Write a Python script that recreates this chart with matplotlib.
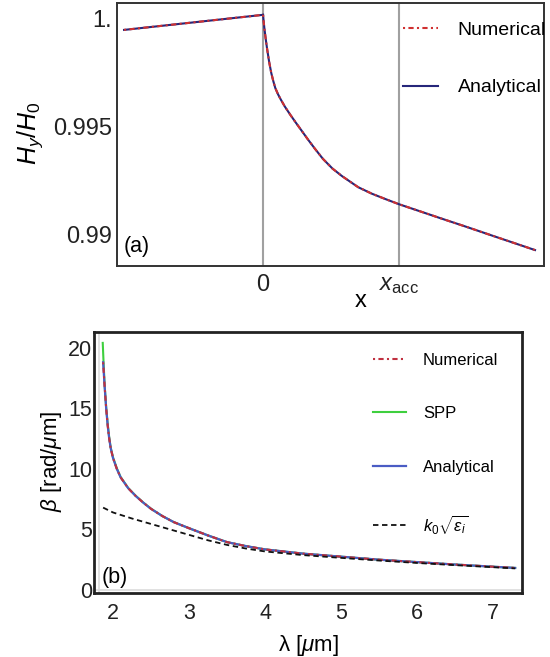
import matplotlib
matplotlib.use("Agg")
import matplotlib.pyplot as plt

plt.rcParams['font.family'] = ['Liberation Sans', 'DejaVu Sans']
plt.rcParams['mathtext.fontset'] = 'custom'
plt.rcParams['mathtext.rm'] = 'Liberation Sans'
plt.rcParams['mathtext.it'] = 'Liberation Sans:italic'
plt.rcParams['mathtext.bf'] = 'Liberation Sans:bold'

# ---------------- Panel (a) data ----------------
xa_left = [-1.022, 0.0]
ya_left = [0.99949, 1.00019]
xa_right = [0.0, 0.005, 0.01, 0.02, 0.03, 0.045, 0.06, 0.075, 0.09, 0.11, 0.13, 0.16,
            0.20, 0.24, 0.28, 0.33, 0.38, 0.44, 0.51, 0.58, 0.64, 0.70, 0.80, 0.90,
            1.0, 1.15, 1.3, 1.5, 1.7, 1.85, 2.0]
ya_right = [1.00019, 0.99985, 0.99955, 0.99905, 0.99860, 0.99800, 0.99750, 0.99712,
            0.99679, 0.99650, 0.99626, 0.99593, 0.99555, 0.99519, 0.99484, 0.99440,
            0.99398, 0.99350, 0.99305, 0.99270, 0.99244, 0.99218, 0.99188, 0.99163,
            0.99139, 0.99107, 0.99075, 0.99033, 0.98990, 0.98958, 0.98926]
a_vlines = [0.0, 1.0]
a_xticks = [0.0, 1.0]
a_xticklabels = ['0', r'$x_{\rm acc}$']
a_yticks = [0.99, 0.995, 1.0]
a_yticklabels = ['0.99', '0.995', '1.']

# ---------------- Panel (b) data ----------------
lam_main = [1.87, 1.89, 1.91, 1.93, 1.95, 1.97, 2.0, 2.05, 2.1, 2.2, 2.3, 2.4, 2.5,
            2.65, 2.8, 3.0, 3.25, 3.5, 3.75, 4.0, 4.5, 5.0, 5.5, 6.0, 6.5, 7.0, 7.29]
beta_num = [18.8, 16.8, 15.0, 13.6, 12.5, 11.7, 10.9, 10.0, 9.3, 8.4, 7.75, 7.2, 6.7,
            6.1, 5.6, 5.1, 4.5, 3.95, 3.62, 3.35, 3.0, 2.75, 2.5, 2.3, 2.1, 1.92, 1.82]
beta_ana = [18.8, 16.8, 15.0, 13.6, 12.5, 11.7, 10.9, 10.0, 9.3, 8.4, 7.75, 7.2, 6.7,
            6.1, 5.6, 5.1, 4.5, 3.95, 3.62, 3.35, 3.0, 2.75, 2.5, 2.3, 2.1, 1.92, 1.82]
lam_spp = [1.865, 1.875, 1.89, 1.91, 1.93, 1.95, 1.97, 2.0, 2.05, 2.1, 2.2, 2.3, 2.4,
           2.5, 2.65, 2.8, 3.0, 3.25, 3.5, 3.75, 4.0, 4.5, 5.0, 5.5, 6.0, 6.5, 7.0, 7.29]
beta_spp = [20.4, 18.9, 16.9, 15.1, 13.7, 12.6, 11.75, 10.95, 10.05, 9.33, 8.42, 7.77,
            7.21, 6.71, 6.1, 5.6, 5.1, 4.5, 3.95, 3.62, 3.35, 3.0, 2.75, 2.5, 2.3, 2.1,
            1.92, 1.82]
lam_k0 = [1.87, 2.0, 2.25, 2.5, 2.75, 3.0, 3.25, 3.5, 3.75, 4.0, 4.5, 5.0, 5.5, 6.0,
          6.5, 7.0, 7.29]
beta_k0 = [6.8, 6.4, 5.9, 5.45, 5.0, 4.55, 4.1, 3.72, 3.42, 3.18, 2.88, 2.65, 2.43,
           2.23, 2.05, 1.88, 1.78]
b_xticks = [2, 3, 4, 5, 6, 7]
b_yticks = [0, 5, 10, 15, 20]

W, H = 550, 657
fig = plt.figure(figsize=(W / 100, H / 100), dpi=100)

def frac_axes(l, t, r, b):
    return fig.add_axes([l / W, 1 - b / H, (r - l) / W, (b - t) / H])

NUM_LS = (0, (1, 1.6, 2.5, 1.6))

# ---------------- Panel (a) ----------------
axa = frac_axes(117, 3, 544, 266)
for xv in a_vlines:
    axa.axvline(xv, color='#a0a0a0', lw=1.5, zorder=1)
axa.plot(xa_left, ya_left, color='#26267a', lw=1.5, zorder=3)
axa.plot(xa_right, ya_right, color='#26267a', lw=1.5, zorder=3, label='Analytical')
axa.plot(xa_left, ya_left, color='#d03030', lw=1.5, ls=NUM_LS, zorder=4)
axa.plot(xa_right, ya_right, color='#d03030', lw=1.5, ls=NUM_LS, zorder=4,
         label='Numerical')
axa.set_xlim(-1.074, 2.066)
axa.set_ylim(0.98852, 1.00074)
axa.set_xticks(a_xticks)
axa.set_xticklabels(a_xticklabels)
axa.set_yticks(a_yticks)
axa.set_yticklabels(a_yticklabels)
axa.tick_params(axis='both', length=0, labelsize=17, colors='#222222')
axa.tick_params(axis='y', pad=3.5)
axa.tick_params(axis='x', pad=6)
for s in axa.spines.values():
    s.set_color('#333333')
    s.set_linewidth(1.4)
h, l = axa.get_legend_handles_labels()
axa.legend([h[1], h[0]], [l[1], l[0]], loc='upper left', bbox_to_anchor=(0.67, 0.93),
           frameon=False, fontsize=14, handlelength=1.8, handletextpad=1.0,
           labelspacing=2.05, borderpad=0, borderaxespad=0)
axa.text(0.015, 0.035, '(a)', transform=axa.transAxes, fontsize=15.5, ha='left', va='bottom')
fig.text(30 / W, 1 - 133 / H, r'$H_y/H_0$', rotation=90, ha='center', va='center', fontsize=18)
fig.text(361 / W, 1 - 301 / H, 'x', ha='center', va='center', fontsize=17)

# ---------------- Panel (b) ----------------
axb = frac_axes(94, 332, 522, 593)
axb.axhline(0, color='#dcdcdc', lw=1.2, zorder=1)
axb.axvline(1.82, color='#dcdcdc', lw=1.2, zorder=1)
axb.plot(lam_spp, beta_spp, color='#3ecf3e', lw=1.5, zorder=2, label='SPP')
axb.plot(lam_main, beta_ana, color='#4a5cc4', lw=1.6, zorder=3, label='Analytical')
axb.plot(lam_main, beta_num, color='#c03040', lw=1.5, ls=NUM_LS, zorder=4,
         label='Numerical')
axb.plot(lam_k0, beta_k0, color='#111111', lw=1.3, ls=(0, (3, 2)), zorder=5,
         label=r'$k_0\sqrt{\epsilon_i}$')
axb.set_xlim(1.75, 7.38)
axb.set_ylim(-0.25, 21.3)
axb.set_xticks(b_xticks)
axb.set_yticks(b_yticks)
axb.tick_params(axis='both', length=0, labelsize=15.5, colors='#222222')
axb.tick_params(axis='y', pad=1.5)
axb.tick_params(axis='x', pad=7)
for s in axb.spines.values():
    s.set_color('#222222')
    s.set_linewidth(2.0)
hb, lb = axb.get_legend_handles_labels()
order = [2, 0, 1, 3]
axb.legend([hb[i] for i in order], [lb[i] for i in order], loc='upper left',
           bbox_to_anchor=(0.652, 0.92), frameon=False, fontsize=12, handlelength=2.0,
           handletextpad=1.0, labelspacing=2.3, borderpad=0, borderaxespad=0)
axb.text(0.018, 0.02, '(b)', transform=axb.transAxes, fontsize=15.5, ha='left', va='bottom')
fig.text(52 / W, 1 - 461 / H, r'$\beta$ [rad/$\mu$m]', rotation=90, ha='center', va='center',
         fontsize=16)
fig.text(308 / W, 1 - 645 / H, r'λ [$\mu$m]', ha='center', va='center', fontsize=16)

fig.savefig('out.png', dpi=100)
